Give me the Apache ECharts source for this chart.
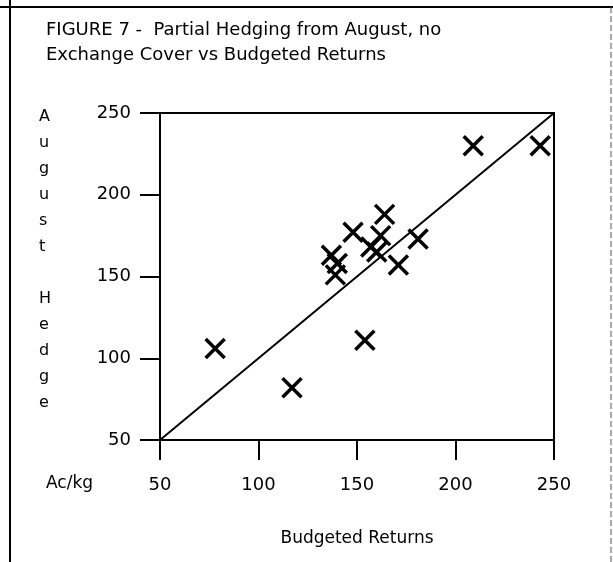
<!DOCTYPE html>
<html>
<head>
<meta charset="utf-8">
<script src="https://cdn.jsdelivr.net/npm/echarts@6/dist/echarts.min.js"></script>
<style>
html,body{margin:0;padding:0;background:#fff;}
#chart{width:613px;height:562px;}
</style>
</head>
<body>
<div id="chart"></div>
<script>
// Data
const budgetedReturns = [78, 117, 137, 140, 139, 148, 154, 157, 160, 162, 164, 171, 181, 209, 243];
const augustHedge     = [106, 82, 163, 158, 151, 177, 111, 168, 165, 175, 188, 157, 173, 230, 230];
const refLineX = [50, 250];
const refLineY = [50, 250];
const axisMin = 50, axisMax = 250, axisStep = 50;
const titleText = 'FIGURE 7 -  Partial Hedging from August, no\nExchange Cover vs Budgeted Returns';
const yAxisTitle = ['A','u','g','u','s','t','','H','e','d','g','e'];
const unitLabel = 'Ac/kg';
const xAxisTitle = 'Budgeted Returns';

const points = budgetedReturns.map((x, i) => [x, augustHedge[i]]);
const refLine = refLineX.map((x, i) => [x, refLineY[i]]);

const font = '"DejaVu Sans", Arial, Helvetica, sans-serif';
const chart = echarts.init(document.getElementById('chart'), null, {renderer: 'canvas'});
chart.setOption({
  animation: false,
  backgroundColor: '#fff',
  title: {
    text: titleText,
    left: 46, top: 18, padding: 0,
    textStyle: {fontFamily: font, fontSize: 18, fontWeight: 'normal', color: '#000', lineHeight: 25}
  },
  grid: {left: 160, right: 59, top: 113, bottom: 122, show: true, borderColor: '#000', borderWidth: 2, backgroundColor: 'transparent'},
  xAxis: {
    type: 'value', min: axisMin, max: axisMax, interval: axisStep,
    name: xAxisTitle, nameLocation: 'middle', nameGap: 90,
    nameTextStyle: {fontFamily: font, fontSize: 17, color: '#000'},
    axisLine: {show: true, lineStyle: {color: '#000', width: 2}},
    axisTick: {show: true, inside: false, length: 20, lineStyle: {color: '#000', width: 2}},
    axisLabel: {fontFamily: font, fontSize: 18, color: '#000', margin: 36},
    splitLine: {show: false}
  },
  yAxis: {
    type: 'value', min: axisMin, max: axisMax, interval: axisStep,
    axisLine: {show: true, lineStyle: {color: '#000', width: 2}},
    axisTick: {show: true, inside: false, length: 20, lineStyle: {color: '#000', width: 2}},
    axisLabel: {fontFamily: font, fontSize: 18, color: '#000', margin: 29},
    splitLine: {show: false}
  },
  series: [
    {
      type: 'line', data: refLine, showSymbol: false, silent: true,
      lineStyle: {color: '#000', width: 2}
    },
    {
      type: 'scatter', data: points,
      symbol: 'path://M0,0L20,20M20,0L0,20',
      symbolSize: 19,
      itemStyle: {color: '#000', borderColor: '#000', borderWidth: 3.5, opacity: 1}
    }
  ],
  graphic: [
    {type: 'line', shape: {x1: 10, y1: 0, x2: 10, y2: 562}, style: {stroke: '#000', lineWidth: 2}},
    {type: 'line', shape: {x1: 0, y1: 7, x2: 613, y2: 7}, style: {stroke: '#000', lineWidth: 2}},
    {type: 'line', shape: {x1: 611, y1: 7, x2: 611, y2: 562}, style: {stroke: '#555', lineWidth: 1, lineDash: [6, 3]}},
    {type: 'text', left: 39, top: 104,
      style: {text: yAxisTitle.join('\n'), font: '16px ' + font, fill: '#000', lineHeight: 26, align: 'center'}},
    {type: 'text', left: 46, top: 475,
      style: {text: unitLabel, font: '17px ' + font, fill: '#000'}}
  ]
});
</script>
</body>
</html>
